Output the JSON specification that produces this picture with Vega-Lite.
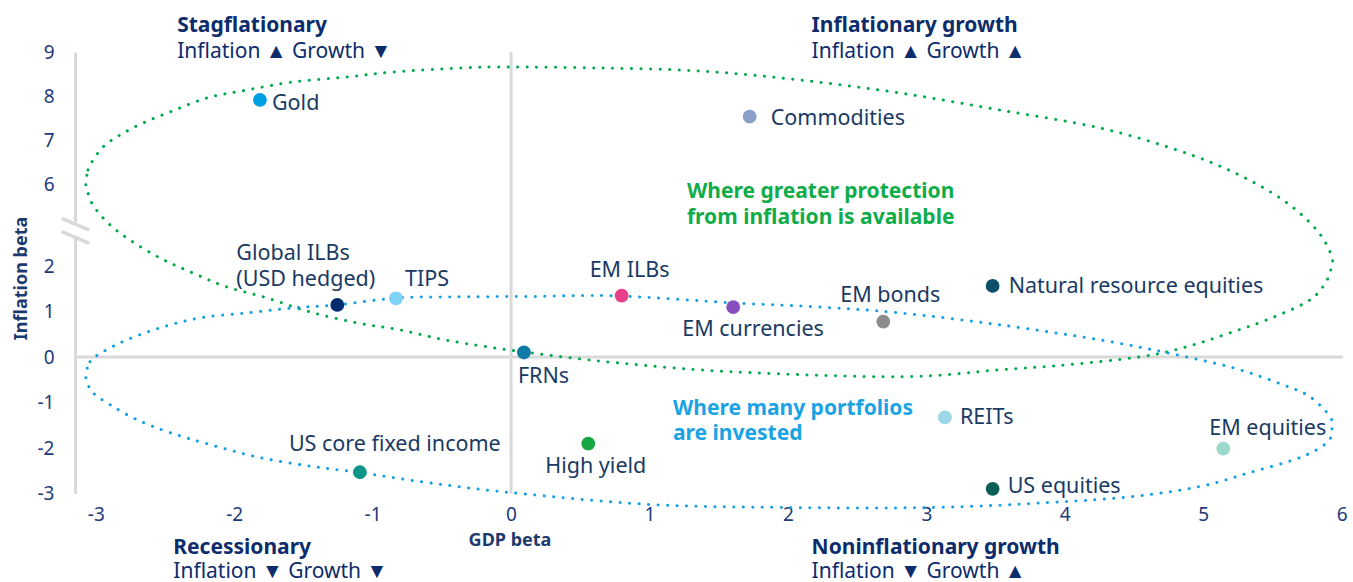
{
  "$schema": "https://vega.github.io/schema/vega-lite/v6.json",
  "width": 1268,
  "height": 441.5,
  "autosize": {"type": "none"},
  "padding": {"left": 75, "top": 52, "right": 10, "bottom": 88.5},
  "background": "white",
  "config": {"view": {"stroke": null}, "font": "Noto Sans"},
  "datasets": {
    "assets": [
      {"name": "Gold", "label": "Gold", "gdp": -1.814, "infl": 7.91},
      {"name": "Commodities", "label": "Commodities", "gdp": 1.724, "infl": 7.53},
      {"name": "Global ILBs (USD hedged)", "label": "Global ILBs\n(USD hedged)", "gdp": -1.255, "infl": 1.145},
      {"name": "TIPS", "label": "TIPS", "gdp": -0.831, "infl": 1.29},
      {"name": "EM ILBs", "label": "EM ILBs", "gdp": 0.799, "infl": 1.35},
      {"name": "EM currencies", "label": "EM currencies", "gdp": 1.605, "infl": 1.094},
      {"name": "EM bonds", "label": "EM bonds", "gdp": 2.689, "infl": 0.779},
      {"name": "Natural resource equities", "label": "Natural resource equities", "gdp": 3.479, "infl": 1.561},
      {"name": "FRNs", "label": "FRNs", "gdp": 0.093, "infl": 0.099},
      {"name": "High yield", "label": "High yield", "gdp": 0.558, "infl": -1.904},
      {"name": "US core fixed income", "label": "US core fixed income", "gdp": -1.092, "infl": -2.533},
      {"name": "REITs", "label": "REITs", "gdp": 3.134, "infl": -1.326},
      {"name": "US equities", "label": "US equities", "gdp": 3.479, "infl": -2.897},
      {"name": "EM equities", "label": "EM equities", "gdp": 5.145, "infl": -2.013}
    ],
    "zerolines": [
      {"gdp": 0, "infl": -3, "gdp2": 0, "infl2": 9},
      {"gdp": -3.15, "infl": 0, "gdp2": 6.01, "infl2": 0}
    ],
    "gap": [{"gdp": -3.15, "infl": 4.146, "gdp2": -3.15, "infl2": 3.463}],
    "slashes": [
      {"gdp": -3.246, "infl": 4.327, "gdp2": -3.047, "infl2": 3.756},
      {"gdp": -3.246, "infl": 3.673, "gdp2": -3.047, "infl2": 3.107}
    ],
    "green": [
      {"gdp": -3.071, "infl": 6.023}, {"gdp": -3.056, "infl": 6.318}, {"gdp": -3.028, "infl": 6.5},
      {"gdp": -2.948, "infl": 6.841}, {"gdp": -2.825, "infl": 7.114}, {"gdp": -2.659, "infl": 7.386},
      {"gdp": -2.464, "infl": 7.636}, {"gdp": -2.197, "infl": 7.955}, {"gdp": -1.908, "infl": 8.136},
      {"gdp": -1.576, "infl": 8.318}, {"gdp": -1.186, "infl": 8.432}, {"gdp": -0.853, "infl": 8.545},
      {"gdp": -0.369, "infl": 8.636}, {"gdp": -0.029, "infl": 8.659}, {"gdp": 0.642, "infl": 8.636},
      {"gdp": 1.365, "infl": 8.568}, {"gdp": 2.087, "infl": 8.364}, {"gdp": 2.81, "infl": 8.068},
      {"gdp": 3.532, "infl": 7.682}, {"gdp": 4.254, "infl": 7.273}, {"gdp": 4.81, "infl": 6.773},
      {"gdp": 5.215, "infl": 6.273}, {"gdp": 5.576, "infl": 5.22}, {"gdp": 5.82, "infl": 3.756},
      {"gdp": 5.929, "infl": 2.439}, {"gdp": 5.914, "infl": 1.846}, {"gdp": 5.864, "infl": 1.539},
      {"gdp": 5.749, "infl": 1.211}, {"gdp": 5.46, "infl": 0.816}, {"gdp": 5.215, "infl": 0.553},
      {"gdp": 4.977, "infl": 0.311}, {"gdp": 4.739, "infl": 0.114}, {"gdp": 4.493, "infl": -0.018},
      {"gdp": 4.016, "infl": -0.171}, {"gdp": 3.532, "infl": -0.281}, {"gdp": 2.81, "infl": -0.434},
      {"gdp": 1.603, "infl": -0.325}, {"gdp": 0.765, "infl": -0.127}, {"gdp": 0.086, "infl": 0.114},
      {"gdp": -0.441, "infl": 0.355}, {"gdp": -0.802, "infl": 0.596}, {"gdp": -1.113, "infl": 0.75},
      {"gdp": -1.453, "infl": 0.991}, {"gdp": -1.763, "infl": 1.298}, {"gdp": -2.052, "infl": 1.539},
      {"gdp": -2.298, "infl": 1.846}, {"gdp": -2.536, "infl": 2.39}, {"gdp": -2.775, "infl": 3.366},
      {"gdp": -2.919, "infl": 4.146}, {"gdp": -3.02, "infl": 4.976}, {"gdp": -3.063, "infl": 5.707}
    ],
    "blue": [
      {"gdp": -3.07, "infl": -0.39}, {"gdp": -3.042, "infl": -0.105}, {"gdp": -2.948, "infl": 0.114},
      {"gdp": -2.775, "infl": 0.377}, {"gdp": -2.536, "infl": 0.64}, {"gdp": -2.247, "infl": 0.86},
      {"gdp": -1.908, "infl": 0.969}, {"gdp": -1.576, "infl": 1.079}, {"gdp": -1.257, "infl": 1.145},
      {"gdp": -0.824, "infl": 1.298}, {"gdp": -0.441, "infl": 1.32}, {"gdp": 0.137, "infl": 1.331},
      {"gdp": 0.765, "infl": 1.342}, {"gdp": 1.603, "infl": 1.189}, {"gdp": 2.21, "infl": 1.101},
      {"gdp": 2.81, "infl": 0.969}, {"gdp": 3.532, "infl": 0.706}, {"gdp": 4.254, "infl": 0.377},
      {"gdp": 4.739, "infl": 0.092}, {"gdp": 5.215, "infl": -0.237}, {"gdp": 5.576, "infl": -0.61},
      {"gdp": 5.771, "infl": -0.873}, {"gdp": 5.916, "infl": -1.311}, {"gdp": 5.93, "infl": -1.596},
      {"gdp": 5.894, "infl": -1.882}, {"gdp": 5.699, "infl": -2.211}, {"gdp": 5.338, "infl": -2.539},
      {"gdp": 4.977, "infl": -2.846}, {"gdp": 4.493, "infl": -3.066}, {"gdp": 3.893, "infl": -3.197},
      {"gdp": 3.048, "infl": -3.307}, {"gdp": 1.964, "infl": -3.307}, {"gdp": 1.003, "infl": -3.241},
      {"gdp": -0.008, "infl": -2.978}, {"gdp": -0.608, "infl": -2.759}, {"gdp": -1.092, "infl": -2.539},
      {"gdp": -1.431, "infl": -2.408}, {"gdp": -1.814, "infl": -2.211}, {"gdp": -2.175, "infl": -1.925},
      {"gdp": -2.464, "infl": -1.662}, {"gdp": -2.703, "infl": -1.377}, {"gdp": -2.897, "infl": -1.048},
      {"gdp": -3.02, "infl": -0.785}, {"gdp": -3.063, "infl": -0.544}
    ],
    "headers": [
      {"label": "Stagflationary", "gdp": -2.412, "infl": 9.455},
      {"label": "Inflationary growth", "gdp": 2.171, "infl": 9.455},
      {"label": "Recessionary", "gdp": -2.44, "infl": -4.338},
      {"label": "Noninflationary growth", "gdp": 2.171, "infl": -4.338}
    ],
    "subs": [
      {"label": "Inflation ▲ Growth ▼", "gdp": -2.412, "infl": 8.864},
      {"label": "Inflation ▲ Growth ▲", "gdp": 2.171, "infl": 8.864},
      {"label": "Inflation ▼ Growth ▼", "gdp": -2.44, "infl": -4.864},
      {"label": "Inflation ▼ Growth ▲", "gdp": 2.171, "infl": -4.864}
    ],
    "greennote": [{"label": "Where greater protection\nfrom inflation is available", "gdp": 1.271, "infl": 6.061}],
    "bluenote": [{"label": "Where many portfolios\nare invested", "gdp": 1.17, "infl": -0.895}]
  },
  "encoding": {
    "x": {
      "field": "gdp", "type": "quantitative",
      "scale": {"domain": [-3.15, 6.01], "nice": false, "zero": false},
      "axis": {
        "title": "GDP beta", "values": [-3, -2, -1, 0, 1, 2, 3, 4, 5, 6],
        "labelExpr": "datum.value < 0 ? '-' + abs(datum.value) : '' + datum.value",
        "domain": false, "ticks": false, "tickSize": 0, "grid": false,
        "labelPadding": 11.5, "labelFontSize": 19, "labelColor": "#1d3a7c", "labelFont": "Noto Sans",
        "labelFlush": false, "labelOverlap": false, "labelBound": false,
        "titleFont": "Noto Sans", "titleFontSize": 18, "titleFontWeight": "bold", "titleColor": "#1d3a6e",
        "titleX": 434.5, "titleY": 51.5, "titleBaseline": "alphabetic", "titleAlign": "center"
      }
    },
    "y": {
      "field": "infl", "type": "quantitative",
      "scale": {"domain": [-3, 2, 6, 9], "range": [441.5, 214, 132, 0], "nice": false, "zero": false},
      "axis": {
        "title": "Inflation beta", "values": [-3, -2, -1, 0, 1, 2, 6, 7, 8, 9],
        "labelExpr": "datum.value < 0 ? '-' + abs(datum.value) : '' + datum.value",
        "domain": true, "domainColor": "#d9d9d9", "domainWidth": 3,
        "ticks": false, "tickSize": 0, "grid": false,
        "labelPadding": 21, "labelFontSize": 19, "labelColor": "#1d3a7c", "labelFont": "Noto Sans",
        "labelFlush": false, "labelOverlap": false, "labelBound": false,
        "titleFont": "Noto Sans", "titleFontSize": 18, "titleFontWeight": "bold", "titleColor": "#1d3a6e",
        "titleX": -54, "titleY": 226, "titleAngle": -90, "titleBaseline": "middle", "titleAlign": "center"
      }
    }
  },
  "layer": [
    {"data": {"name": "zerolines"}, "mark": {"type": "rule", "color": "#d9d9d9", "strokeWidth": 3},
     "encoding": {"x2": {"field": "gdp2"}, "y2": {"field": "infl2"}}},
    {"data": {"name": "gap"}, "mark": {"type": "rule", "color": "white", "strokeWidth": 7},
     "encoding": {"x2": {"field": "gdp2"}, "y2": {"field": "infl2"}}},
    {"data": {"name": "slashes"}, "mark": {"type": "rule", "color": "#d9d9d9", "strokeWidth": 3.5},
     "encoding": {"x2": {"field": "gdp2"}, "y2": {"field": "infl2"}}},
    {"data": {"name": "green"}, "mark": {"type": "line", "interpolate": "cardinal-closed", "color": "#00aa4b", "strokeWidth": 3, "strokeDash": [0.1, 9.4], "strokeCap": "round"},
     "encoding": {"order": {"value": null}}},
    {"data": {"name": "blue"}, "mark": {"type": "line", "interpolate": "cardinal-closed", "color": "#14a0e2", "strokeWidth": 3, "strokeDash": [0.1, 9.4], "strokeCap": "round"},
     "encoding": {"order": {"value": null}}},
    {"data": {"name": "assets"}, "mark": {"type": "circle", "size": 190, "opacity": 1},
     "encoding": {"color": {"field": "name", "type": "nominal", "legend": null,
       "scale": {
         "domain": ["Gold", "Commodities", "Global ILBs (USD hedged)", "TIPS", "EM ILBs", "EM currencies", "EM bonds", "Natural resource equities", "FRNs", "High yield", "US core fixed income", "REITs", "US equities", "EM equities"],
         "range": ["#009fe3", "#8aa0c8", "#002b6e", "#7fd3f7", "#e8408a", "#8a4fbf", "#8c8c8c", "#0d4f6b", "#0f7aa3", "#17a844", "#0f9488", "#9dd8e8", "#0a5e55", "#9bdacb"]}}}},
    {"data": {"name": "assets"}, "transform": [{"filter": "datum.name === 'Gold'"}], "mark": {"type": "text", "align": "left", "baseline": "alphabetic", "dx": 12, "dy": 10, "fontSize": 21.5, "color": "#193a63"}, "encoding": {"text": {"field": "label"}}},
    {"data": {"name": "assets"}, "transform": [{"filter": "datum.name === 'Commodities'"}], "mark": {"type": "text", "align": "left", "baseline": "alphabetic", "dx": 21, "dy": 8, "fontSize": 21.5, "color": "#193a63"}, "encoding": {"text": {"field": "label"}}},
    {"data": {"name": "assets"}, "transform": [{"filter": "datum.name === 'Global ILBs (USD hedged)'"}], "mark": {"type": "text", "align": "left", "baseline": "top", "dx": -101, "dy": -62, "lineHeight": 26, "lineBreak": "\n", "fontSize": 21.5, "color": "#193a63"}, "encoding": {"text": {"field": "label"}}},
    {"data": {"name": "assets"}, "transform": [{"filter": "datum.name === 'TIPS'"}], "mark": {"type": "text", "align": "left", "baseline": "alphabetic", "dx": 9, "dy": -12, "fontSize": 21.5, "color": "#193a63"}, "encoding": {"text": {"field": "label"}}},
    {"data": {"name": "assets"}, "transform": [{"filter": "datum.name === 'EM ILBs'"}], "mark": {"type": "text", "align": "left", "baseline": "alphabetic", "dx": -32, "dy": -19, "fontSize": 21.5, "color": "#193a63"}, "encoding": {"text": {"field": "label"}}},
    {"data": {"name": "assets"}, "transform": [{"filter": "datum.name === 'EM currencies'"}], "mark": {"type": "text", "align": "left", "baseline": "alphabetic", "dx": -51, "dy": 29, "fontSize": 21.5, "color": "#193a63"}, "encoding": {"text": {"field": "label"}}},
    {"data": {"name": "assets"}, "transform": [{"filter": "datum.name === 'EM bonds'"}], "mark": {"type": "text", "align": "left", "baseline": "alphabetic", "dx": -43, "dy": -20, "fontSize": 21.5, "color": "#193a63"}, "encoding": {"text": {"field": "label"}}},
    {"data": {"name": "assets"}, "transform": [{"filter": "datum.name === 'Natural resource equities'"}], "mark": {"type": "text", "align": "left", "baseline": "alphabetic", "dx": 16, "dy": 7, "fontSize": 21.5, "color": "#193a63"}, "encoding": {"text": {"field": "label"}}},
    {"data": {"name": "assets"}, "transform": [{"filter": "datum.name === 'FRNs'"}], "mark": {"type": "text", "align": "left", "baseline": "alphabetic", "dx": -6, "dy": 31, "fontSize": 21.5, "color": "#193a63"}, "encoding": {"text": {"field": "label"}}},
    {"data": {"name": "assets"}, "transform": [{"filter": "datum.name === 'High yield'"}], "mark": {"type": "text", "align": "left", "baseline": "alphabetic", "dx": -43, "dy": 29, "fontSize": 21.5, "color": "#193a63"}, "encoding": {"text": {"field": "label"}}},
    {"data": {"name": "assets"}, "transform": [{"filter": "datum.name === 'US core fixed income'"}], "mark": {"type": "text", "align": "left", "baseline": "alphabetic", "dx": -71, "dy": -21, "fontSize": 21.5, "color": "#193a63"}, "encoding": {"text": {"field": "label"}}},
    {"data": {"name": "assets"}, "transform": [{"filter": "datum.name === 'REITs'"}], "mark": {"type": "text", "align": "left", "baseline": "alphabetic", "dx": 15, "dy": 7, "fontSize": 21.5, "color": "#193a63"}, "encoding": {"text": {"field": "label"}}},
    {"data": {"name": "assets"}, "transform": [{"filter": "datum.name === 'US equities'"}], "mark": {"type": "text", "align": "left", "baseline": "alphabetic", "dx": 15, "dy": 4, "fontSize": 21.5, "color": "#193a63"}, "encoding": {"text": {"field": "label"}}},
    {"data": {"name": "assets"}, "transform": [{"filter": "datum.name === 'EM equities'"}], "mark": {"type": "text", "align": "left", "baseline": "alphabetic", "dx": -14, "dy": -14, "fontSize": 21.5, "color": "#193a63"}, "encoding": {"text": {"field": "label"}}},
    {"data": {"name": "headers"}, "mark": {"type": "text", "align": "left", "baseline": "alphabetic", "fontSize": 21, "fontWeight": "bold", "color": "#0d2c6c"}, "encoding": {"text": {"field": "label"}}},
    {"data": {"name": "subs"}, "mark": {"type": "text", "align": "left", "baseline": "alphabetic", "fontSize": 21, "color": "#0d2c6c"}, "encoding": {"text": {"field": "label"}}},
    {"data": {"name": "greennote"}, "mark": {"type": "text", "align": "left", "baseline": "top", "lineBreak": "\n", "lineHeight": 26, "fontSize": 21, "fontWeight": "bold", "color": "#0fac4a"}, "encoding": {"text": {"field": "label"}}},
    {"data": {"name": "bluenote"}, "mark": {"type": "text", "align": "left", "baseline": "top", "lineBreak": "\n", "lineHeight": 25, "fontSize": 21, "fontWeight": "bold", "color": "#1aa3e3"}, "encoding": {"text": {"field": "label"}}}
  ]
}
